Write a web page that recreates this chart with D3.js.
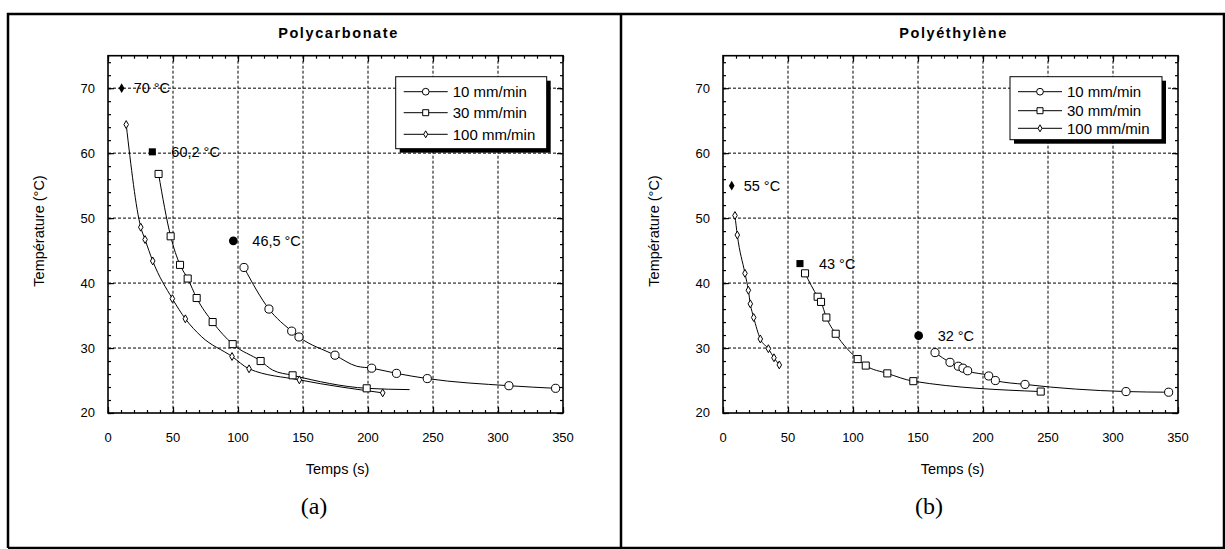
<!DOCTYPE html>
<html>
<head>
<meta charset="utf-8">
<script src="https://cdn.jsdelivr.net/npm/d3@7"></script>
<style>
  body { margin: 0; background: #fff; }
  svg { display: block; font-family: "Liberation Sans", Arial, sans-serif; }
</style>
</head>
<body>
<div id="canvas"></div>
<script>
// axes
const xTicks = [0, 50, 100, 150, 200, 250, 300, 350];
const yTicks = [20, 30, 40, 50, 60, 70];
const xDomain = [0, 350];
const yDomain = [20, 75];
const legendLabels = ["10 mm/min", "30 mm/min", "100 mm/min"];
const panelTitles = ["Polycarbonate", "Polyéthylène"];
const panelTags = ["(a)", "(b)"];

// Polycarbonate - markers [time, temperature]
const pc10 = [[104.6, 42.4], [123.8, 36.0], [141.3, 32.6], [146.9, 31.7], [174.6, 28.9], [202.8, 26.9], [221.9, 26.1], [245.6, 25.3], [308.4, 24.2], [344.3, 23.8]];
const pc30 = [[38.9, 56.8], [48.2, 47.2], [55.4, 42.8], [61.3, 40.7], [68.2, 37.7], [80.5, 34.0], [95.9, 30.6], [117.4, 28.0], [142.0, 25.8], [199.0, 23.8]];
const pc100 = [[14.0, 64.4], [25.2, 48.6], [28.5, 46.7], [34.4, 43.4], [49.5, 37.6], [59.5, 34.5], [95.4, 28.7], [108.5, 26.8], [147.2, 25.1], [211.3, 23.1]];
// extra vertices of the drawn curves (no marker)
const pc10Curve = [[191.3, 27.2]];
const pc30Curve = [[126.7, 26.6], [232.0, 23.6]];
const pc100Curve = [[71.7, 31.8]];
// filled reference points + labels
const pcRefs = [[10.5, 70.0], [34.1, 60.2], [96.4, 46.5]];
const pcRefLabels = ["70 °C", "60,2 °C", "46,5 °C"];

// Polyethylene
const pe10 = [[163.1, 29.3], [174.6, 27.8], [181.0, 27.2], [184.6, 26.9], [188.2, 26.5], [204.4, 25.7], [209.5, 25.0], [232.3, 24.4], [310.0, 23.3], [342.8, 23.2]];
const pe30 = [[63.1, 41.5], [72.8, 37.9], [75.4, 37.1], [79.5, 34.7], [86.7, 32.2], [103.6, 28.3], [109.8, 27.3], [126.4, 26.1], [146.4, 24.9], [244.4, 23.3]];
const pe100 = [[9.2, 50.4], [11.0, 47.4], [16.9, 41.5], [19.5, 38.9], [21.0, 36.8], [23.6, 34.7], [28.7, 31.4], [34.9, 29.9], [39.2, 28.5], [43.3, 27.4]];
const peRefs = [[6.7, 55.0], [59.2, 43.0], [150.5, 31.9]];
const peRefLabels = ["55 °C", "43 °C", "32 °C"];

const width = 1225, height = 549;
const margin = {left: 108, top: 55.7};
const plotW = 455, plotH = 357.3;
const panelShift = 615;

const svg = d3.select("#canvas").append("svg").attr("width", width).attr("height", height);

// outer frame
svg.append("path")
    .attr("d", "M8,548 V14 H1224 V548 H8 M621,14 V548")
    .attr("fill", "none").attr("stroke", "#000").attr("stroke-width", 2.5);

const symbols = [d3.symbolCircle, d3.symbolSquare, d3.symbolDiamond];
const symSizes = [52, 50, 18];
const legendSizes = [36, 36, 14];

function drawPanel(i, series, curves, refs, refLabels, legendBox) {
    let ox = margin.left + i * panelShift;
    let g = svg.append("g").attr("transform", "translate(" + ox + "," + margin.top + ")");
    var x = d3.scaleLinear().domain(xDomain).range([0, plotW]);
    var y = d3.scaleLinear().domain(yDomain).range([plotH, 0]);

    // grid
    g.append("g").selectAll("line").data(xTicks.slice(1, -1)).enter().append("line")
        .attr("x1", d => x(d)).attr("x2", d => x(d)).attr("y1", 0).attr("y2", plotH)
        .attr("stroke", "#000").attr("stroke-width", 1).attr("stroke-dasharray", "3,2");
    g.append("g").selectAll("line").data(yTicks.slice(1)).enter().append("line")
        .attr("x1", 0).attr("x2", plotW).attr("y1", d => y(d)).attr("y2", d => y(d))
        .attr("stroke", "#000").attr("stroke-width", 1).attr("stroke-dasharray", "3,2");

    // axes with inner ticks on all sides
    const xMinor = d3.range(0, 351, 10);
    const yMinor = d3.range(20, 75.1, 2);
    g.append("g").attr("transform", "translate(0," + plotH + ")")
        .call(d3.axisTop(x).tickValues(xMinor).tickSize(3).tickFormat(""));
    g.append("g").attr("transform", "translate(0," + plotH + ")")
        .call(d3.axisTop(x).tickValues(xTicks).tickSize(6).tickFormat(""));
    g.append("g").call(d3.axisBottom(x).tickValues(xMinor).tickSize(3).tickFormat(""));
    g.append("g").call(d3.axisBottom(x).tickValues(xTicks).tickSize(6).tickFormat(""));
    g.append("g").call(d3.axisRight(y).tickValues(yMinor).tickSize(3).tickFormat(""));
    g.append("g").call(d3.axisRight(y).tickValues(yTicks).tickSize(6).tickFormat(""));
    g.append("g").attr("transform", "translate(" + plotW + ",0)")
        .call(d3.axisLeft(y).tickValues(yMinor).tickSize(3).tickFormat(""));
    g.append("g").attr("transform", "translate(" + plotW + ",0)")
        .call(d3.axisLeft(y).tickValues(yTicks).tickSize(6).tickFormat(""));
    g.selectAll(".domain").remove();
    g.selectAll(".tick line").attr("stroke", "#000").attr("stroke-width", 1.2);
    g.append("rect").attr("width", plotW).attr("height", plotH)
        .attr("fill", "none").attr("stroke", "#000").attr("stroke-width", 1.6);

    // tick labels
    g.append("g").selectAll("text").data(xTicks).enter().append("text")
        .attr("x", d => x(d)).attr("y", plotH + 29).attr("text-anchor", "middle")
        .attr("font-size", 13).text(d => d);
    g.append("g").selectAll("text").data(yTicks).enter().append("text")
        .attr("x", -13).attr("y", d => y(d) + 4.5).attr("text-anchor", "end")
        .attr("font-size", 13).text(d => d);

    // titles
    g.append("text").attr("x", plotW / 2 + 3).attr("y", 33 - margin.top + 5)
        .attr("text-anchor", "middle").attr("font-size", 14.5).attr("font-weight", "bold")
        .attr("letter-spacing", 1.6).text(panelTitles[i]);
    g.append("text").attr("x", plotW / 2 + 2).attr("y", 469 - margin.top + 5)
        .attr("text-anchor", "middle").attr("font-size", 14.5).text("Temps (s)");
    g.append("text").attr("transform", "translate(-64," + (231 - margin.top) + ") rotate(-90)")
        .attr("text-anchor", "middle").attr("font-size", 14.5).text("Température (°C)");
    g.append("text").attr("x", 314 - margin.left).attr("y", 506 - margin.top + 8)
        .attr("text-anchor", "middle").attr("font-size", 24)
        .attr("font-family", "'Liberation Serif', 'DejaVu Serif', serif").text(panelTags[i]);

    // curves
    const line = d3.line().x(d => x(d[0])).y(d => y(d[1])).curve(d3.curveMonotoneX);
    series.forEach((s, k) => {
        let pts = s.concat(curves[k]).sort((a, b) => a[0] - b[0]);
        g.append("path").datum(pts).attr("d", line)
            .attr("fill", "none").attr("stroke", "#000").attr("stroke-width", 1);
    });
    series.forEach((s, k) => {
        g.append("g").selectAll("path").data(s).enter().append("path")
            .attr("transform", d => "translate(" + x(d[0]) + "," + y(d[1]) + ")")
            .attr("d", d3.symbol().type(symbols[k]).size(symSizes[k]))
            .attr("fill", "#fff").attr("stroke", "#000").attr("stroke-width", 1);
    });

    // filled reference points
    const refSizes = [60, 50, 28];
    refs.forEach((r, k) => {
        let sym = 2 - k;
        g.append("path")
            .attr("transform", "translate(" + x(r[0]) + "," + y(r[1]) + ")")
            .attr("d", d3.symbol().type(symbols[sym]).size(refSizes[sym]))
            .attr("fill", "#000");
        g.append("text").attr("x", x(r[0]) + (k == 0 ? 12 : k == 1 ? 19 : 19))
            .attr("y", y(r[1]) + 5).attr("font-size", 14.5).text(refLabels[k]);
    });

    // legend
    let lg = g.append("g").attr("transform", "translate(" + legendBox.x + "," + legendBox.y + ")");
    lg.append("rect").attr("x", 4).attr("y", 4).attr("width", legendBox.w).attr("height", legendBox.h).attr("fill", "#000");
    lg.append("rect").attr("width", legendBox.w).attr("height", legendBox.h)
        .attr("fill", "#fff").attr("stroke", "#000").attr("stroke-width", 1);
    legendLabels.forEach((lab, k) => {
        let ry = legendBox.rows[k];
        lg.append("line").attr("x1", 8).attr("x2", 52).attr("y1", ry).attr("y2", ry)
            .attr("stroke", "#000").attr("stroke-width", 1);
        lg.append("path").attr("transform", "translate(30," + ry + ")")
            .attr("d", d3.symbol().type(symbols[k]).size(legendSizes[k]))
            .attr("fill", "#fff").attr("stroke", "#000").attr("stroke-width", 1);
        lg.append("text").attr("x", 57).attr("y", ry + 5.5).attr("font-size", 15).text(lab);
    });
}

drawPanel(0, [pc10, pc30, pc100], [pc10Curve, pc30Curve, pc100Curve], pcRefs, pcRefLabels,
    {x: 287.7, y: 21, w: 151, h: 72, rows: [15, 36, 57.6]});
drawPanel(1, [pe10, pe30, pe100], [[], [], []], peRefs, peRefLabels,
    {x: 287, y: 21, w: 152, h: 63, rows: [15, 34, 51.6]});
</script>
</body>
</html>
